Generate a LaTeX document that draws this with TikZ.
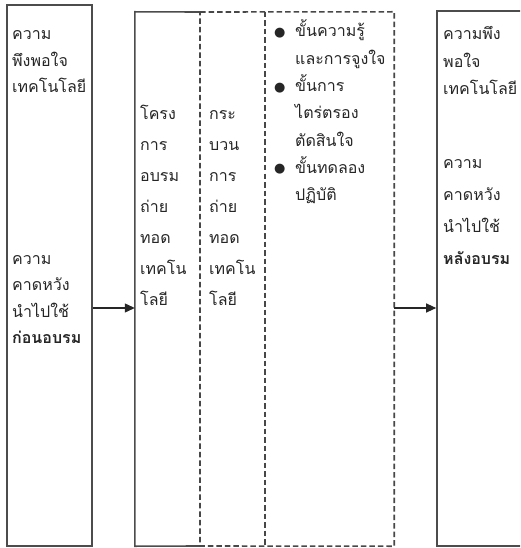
\documentclass[tikz,border=0pt]{standalone}
\usepackage{fontspec}
\setmainfont[Script=Thai]{Loma}
\newfontfamily\symfont{DejaVu Sans}
\usetikzlibrary{arrows.meta}
\newcommand{\blt}{\makebox[21pt][l]{\raisebox{0.5pt}{\symfont\fontsize{13}{13}\selectfont ●}}}
\newcommand{\ind}{\hspace*{21pt}}
\tikzset{
  boxline/.style={draw=black!70, line width=1.6pt},
  dashline/.style={draw=black!72, line width=1.6pt, dash pattern=on 5.5pt off 3pt},
  arr/.style={draw=black!85, line width=1.1pt, -{Triangle[length=10pt,width=9pt]}},
  txt/.style={anchor=base west, inner sep=0pt, align=left, text width=#1, text=black!85},
  txt/.default=90pt
}
\begin{document}
\begin{tikzpicture}[x=1pt,y=1pt]
\useasboundingbox (0,0) rectangle (520,-548);
\clip (0,0) rectangle (520,-548);
\fill[white] (0,0) rectangle (520,-548);
% boxes
\node[boxline, minimum width=85pt, minimum height=541pt, inner sep=0pt] (L) at (49.5,-275.5) {};
\node[minimum width=259pt, minimum height=534pt, inner sep=0pt] (M) at (264.5,-279) {};
\node[boxline, minimum width=200pt, minimum height=535pt, inner sep=0pt] (R) at (537,-278.5) {};
\coordinate (c1t) at (200,-12);
\coordinate (c1b) at (200,-546);
\coordinate (c2t) at (265,-12);
\coordinate (c2b) at (265,-546);
\draw[boxline] (c1t) -- (M.north west) -- (M.south west) -- (c1b);
\draw[dashline] (c1t) -- (M.north east) -- (M.south east) -- (c1b) -- cycle;
\draw[dashline] (c2t) -- (c2b);
% arrows
\coordinate (ay) at (0,-308);
\draw[arr] (L.east |- ay) -- (M.west |- ay);
\draw[arr] (M.east |- ay) -- (R.west |- ay);
% texts
\begin{scope}[font=\fontsize{16}{26.5}\selectfont]
\node[txt] (t1) at (12,-40) {ความ\\พึงพอใจ\\เทคโนโลยี};
\node[txt] (t2) at (12,-264) {ความ\\คาดหวัง\\นำไปใช้\\\textbf{ก่อนอบรม}};
\end{scope}
\begin{scope}[font=\fontsize{16}{27.3}\selectfont]
\node[txt] (t5) at (274,-37) {\blt ขั้นความรู้\\\ind และการจูงใจ\\\blt ขั้นการ\\\ind ไตร่ตรอง\\\ind ตัดสินใจ\\\blt ขั้นทดลอง\\\ind ปฏิบัติ};
\node[txt] (t6) at (443,-40) {ความพึง\\พอใจ\\เทคโนโลยี};
\end{scope}
\begin{scope}[font=\fontsize{16}{31}\selectfont]
\node[txt=55pt] (t3) at (140,-120) {โครง\\การ\\อบรม\\ถ่าย\\ทอด\\เทคโน\\โลยี};
\node[txt=55pt] (t4) at (209,-120) {กระ\\บวน\\การ\\ถ่าย\\ทอด\\เทคโน\\โลยี};
\end{scope}
\begin{scope}[font=\fontsize{16}{32}\selectfont]
\node[txt] (t7) at (443,-168) {ความ\\คาดหวัง\\นำไปใช้\\\textbf{หลังอบรม}};
\end{scope}
\end{tikzpicture}
\end{document}
